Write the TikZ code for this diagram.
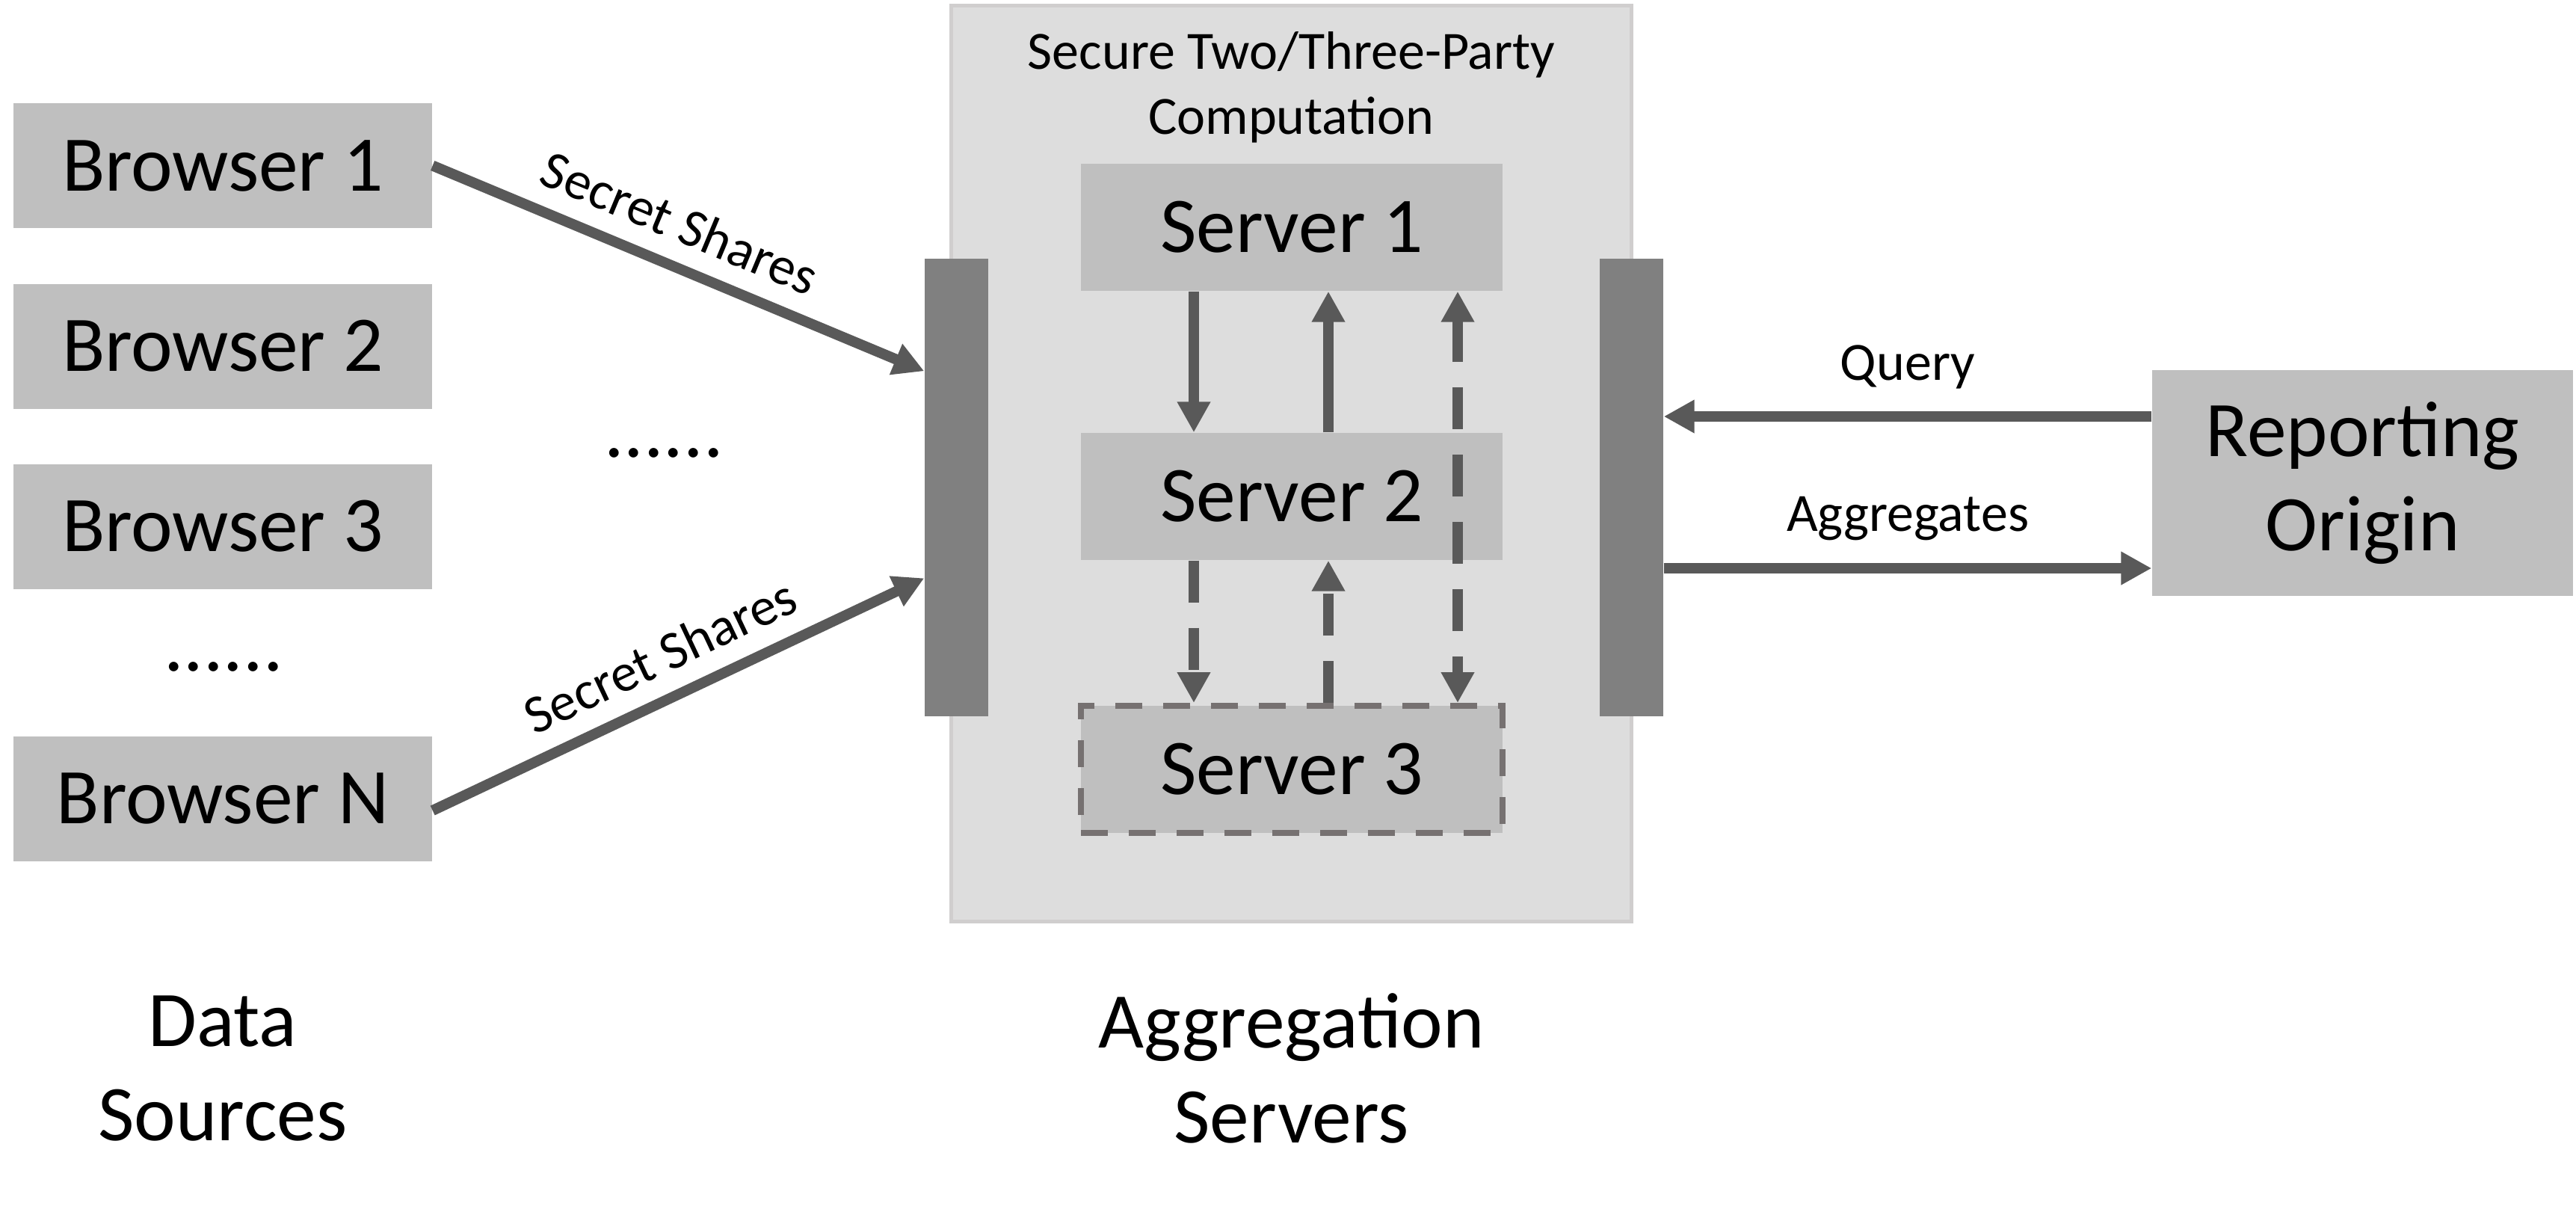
\documentclass[tikz,border=0pt]{standalone}
\usepackage{fontspec}
\setmainfont{Carlito}
\usetikzlibrary{arrows.meta,positioning,calc}
\definecolor{BoxFill}{HTML}{BFBFBF}
\definecolor{PanelFill}{HTML}{DDDDDD}
\definecolor{PanelLine}{HTML}{D0CECE}
\definecolor{BarFill}{HTML}{808080}
\definecolor{ArrowGray}{HTML}{595959}
\definecolor{DashGray}{HTML}{767171}
\newcommand{\bigfont}{\fontsize{30}{36}\selectfont}
\newcommand{\smallfont}{\fontsize{20.5}{24.6}\selectfont}
\tikzset{>={Triangle[length=4.1mm,width=4.2mm]},
 box/.style={fill=BoxFill,minimum width=56.3mm,minimum height=17mm,
  align=center,font=\bigfont,inner sep=0pt},
 bar/.style={fill=BarFill,minimum width=8.5mm,minimum height=61.2mm,inner sep=0pt},
 flow/.style={draw=ArrowGray,line width=1.4mm,->},
 dflow/.style={flow,dash pattern=on 5.6mm off 3.4mm},
 tag/.style={font=\smallfont,inner sep=1mm}}

\begin{document}
\begin{tikzpicture}
\useasboundingbox (0,0) rectangle (34.46,-16.24);
% secure computation panel
\node[draw=PanelLine,fill=PanelFill,line width=.5mm,minimum width=91mm,
 minimum height=122.5mm,inner sep=0pt] (mpc) at (17.275,-6.2) {};
\node[tag,align=center] (mpct) at (17.275,-1.17) {Secure Two/Three-Party\\Computation};
\node[bar] (lbar) at (12.795,-6.52) {};
\node[bar] (rbar) at (21.825,-6.52) {};
\node[box,minimum width=56.4mm] (s1) at (17.28,-3.04) {Server 1};
\node[box,minimum width=56.4mm] (s2) at (17.28,-6.64) {Server 2};
\node[box,minimum width=56.4mm,draw=DashGray,line width=.8mm,
 dash pattern=on 3.6mm off 2.8mm] (s3) at (17.28,-10.29) {Server 3};
% data sources
\foreach \y/\k in {-2.215/1,-4.63/2,-7.04/3,-10.68/N}
 \node[box,minimum width=56mm,minimum height=16.7mm] (b\k) at (2.98,\y) {Browser \k};
\node[font=\bigfont,anchor=base] (dots1) at (2.99,-8.97) {......};
\node[font=\bigfont,anchor=base] (dots2) at (8.88,-6.11) {......};
\node[box,minimum height=30.2mm] (ro) at (31.605,-6.46) {Reporting\\Origin};
% flows
\draw[flow] (b1.east) -- node[tag,sloped,above=1.5mm,pos=.47]{Secret Shares}
 ($(lbar.north west)+(0,-1.51)$);
\draw[flow] ($(bN.east)+(0,-.16)$) -- node[tag,sloped,above=1.5mm]{Secret Shares}
 ($(lbar.north west)+(0,-4.28)$);
\draw[flow] ($(ro.west)+(0,.89)$) coordinate (qs) -- node[tag,above=2mm]{Query}
 (qs -| rbar.east);
\draw[flow] ($(ro.west)+(0,-1.14)$) coordinate (ae) (ae -| rbar.east) --
 node[tag,above=2mm]{Aggregates} (ae);
\draw[flow] ($(s1.south)+(-1.31,0)$) -- ($(s2.north)+(-1.31,0)$);
\draw[flow] ($(s2.north)+(.49,0)$) -- ($(s1.south)+(.49,0)$);
\draw[dflow,<->] ($(s1.south)+(2.22,0)$) -- ($(s3.north)+(2.22,0)$);
\draw[dflow] ($(s2.south)+(-1.31,0)$) -- ($(s3.north)+(-1.31,0)$);
\draw[dflow] ($(s3.north)+(.49,0)$) -- ($(s2.south)+(.49,0)$);
% captions
\node[font=\bigfont,align=center] (src) at (2.98,-14.29) {Data\\Sources};
\node[font=\bigfont,align=center] (agg) at (17.275,-14.29) {Aggregation\\Servers};
\end{tikzpicture}
\end{document}
